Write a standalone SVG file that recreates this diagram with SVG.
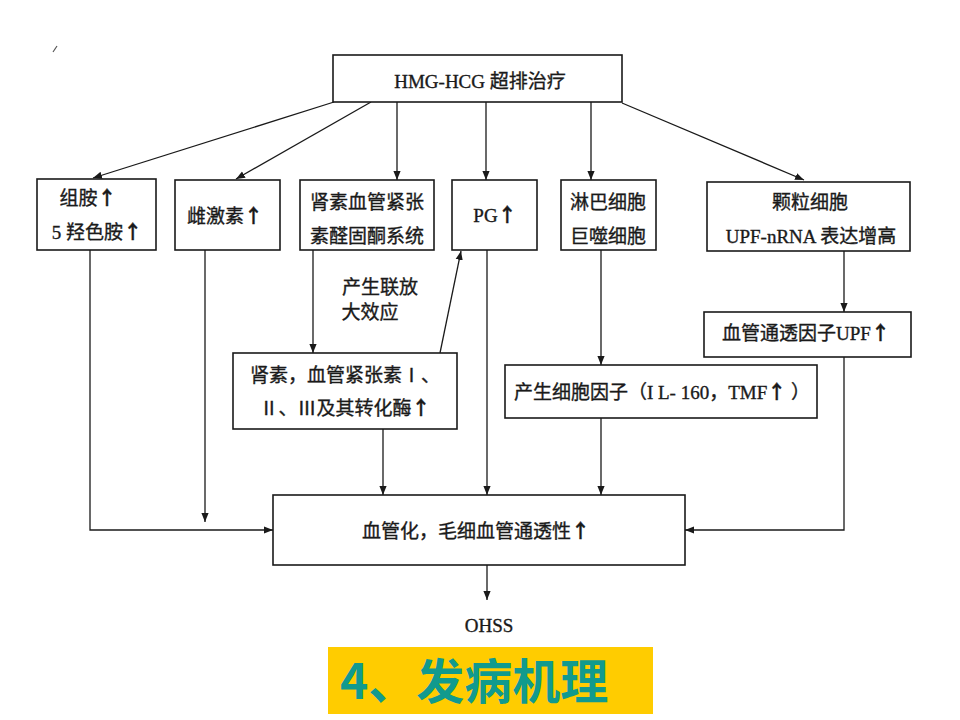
<svg xmlns="http://www.w3.org/2000/svg" width="960" height="720" viewBox="0 0 960 720">
<defs>
<marker id="ah" viewBox="0 0 10 10" refX="10" refY="5" markerWidth="9" markerHeight="9" markerUnits="userSpaceOnUse" orient="auto">
<path d="M0,1 L10,5 L0,9 Z" fill="#1a1a1a"/>
</marker>
<style>
.box{fill:#fff;stroke:#1a1a1a;stroke-width:1.6}
.t{font-family:"Liberation Serif","Noto Sans CJK SC",serif;font-size:19px;fill:#1a1a1a;stroke:#1a1a1a;stroke-width:0.35;text-anchor:middle}
.ar{font-family:"Noto Sans CJK SC",sans-serif;font-weight:bold}
.c{fill:none;stroke:#1a1a1a;stroke-width:1.3}
.ca{fill:none;stroke:#1a1a1a;stroke-width:1.3;marker-end:url(#ah)}
</style>
</defs>
<rect width="960" height="720" fill="#fff"/>
<path d="M53,52 L57,46" stroke="#555" stroke-width="1.2"/>

<g id="connectors">
<line class="ca" x1="334" y1="102" x2="93" y2="178"/>
<line class="ca" x1="371" y1="102" x2="236" y2="179"/>
<line class="ca" x1="397" y1="102" x2="397" y2="180"/>
<line class="ca" x1="486" y1="102" x2="486" y2="180"/>
<line class="ca" x1="591" y1="102" x2="591" y2="180"/>
<line class="ca" x1="622" y1="103" x2="804" y2="180"/>
<polyline class="ca" points="90,250 90,530 273,530"/>
<line class="ca" x1="205" y1="250" x2="205" y2="522"/>
<line class="ca" x1="313" y1="250" x2="313" y2="353"/>
<line class="ca" x1="440" y1="353" x2="461" y2="251"/>
<line class="ca" x1="383" y1="429" x2="383" y2="495"/>
<line class="ca" x1="487" y1="250" x2="487" y2="495"/>
<line class="ca" x1="601" y1="250" x2="601" y2="365"/>
<line class="ca" x1="601" y1="418" x2="601" y2="495"/>
<line class="ca" x1="844" y1="251" x2="844" y2="312"/>
<polyline class="ca" points="844,357 844,530 685,530"/>
<line class="ca" x1="487" y1="565" x2="487" y2="600"/>
</g>

<g id="top">
<rect class="box" x="333" y="55" width="289" height="47"/>
<text class="t" x="480" y="88">HMG-HCG 超排治疗</text>
</g>
<g id="histamine">
<rect class="box" x="37" y="179" width="119" height="71"/>
<text class="t" x="88" y="205">组胺<tspan class="ar">↑</tspan></text>
<text class="t" x="97" y="239">5 羟色胺<tspan class="ar">↑</tspan></text>
</g>
<g id="estrogen">
<rect class="box" x="175" y="180" width="105" height="70"/>
<text class="t" x="225" y="223">雌激素<tspan class="ar">↑</tspan></text>
</g>
<g id="raas">
<rect class="box" x="300" y="180" width="134" height="70"/>
<text class="t" x="367" y="209">肾素血管紧张</text>
<text class="t" x="367" y="243">素醛固酮系统</text>
</g>
<g id="pg">
<rect class="box" x="452" y="180" width="85" height="70"/>
<text class="t" x="495" y="222">PG<tspan class="ar">↑</tspan></text>
</g>
<g id="lymph">
<rect class="box" x="561" y="180" width="95" height="70"/>
<text class="t" x="608" y="209">淋巴细胞</text>
<text class="t" x="608" y="243">巨噬细胞</text>
</g>
<g id="granulosa">
<rect class="box" x="707" y="182" width="203" height="69"/>
<text class="t" x="810" y="209">颗粒细胞</text>
<text class="t" x="811" y="243">UPF-nRNA 表达增高</text>
</g>
<g id="amplify-label">
<text class="t" x="380" y="294">产生联放</text>
<text class="t" x="370" y="319">大效应</text>
</g>
<g id="renin">
<rect class="box" x="233" y="353" width="224" height="76"/>
<text class="t" x="345" y="382">肾素，血管紧张素Ⅰ、</text>
<text class="t" x="345" y="415">Ⅱ、Ⅲ及其转化酶<tspan class="ar">↑</tspan></text>
</g>
<g id="cytokine">
<rect class="box" x="505" y="365" width="312" height="53"/>
<text class="t" x="662" y="399">产生细胞因子（I L- 160，TMF<tspan class="ar">↑</tspan> ）</text>
</g>
<g id="upf">
<rect class="box" x="704" y="312" width="207" height="45"/>
<text class="t" x="806" y="340">血管通透因子UPF<tspan class="ar">↑</tspan></text>
</g>
<g id="vascular">
<rect class="box" x="273" y="495" width="412" height="70"/>
<text class="t" x="476" y="538">血管化，毛细血管通透性<tspan class="ar">↑</tspan></text>
</g>
<g id="ohss">
<text class="t" x="489" y="632">OHSS</text>
</g>
<g id="title">
<rect x="328" y="647" width="325" height="67" fill="#FFCC00"/>
<text x="340" y="699" font-family="'Noto Sans CJK SC',sans-serif" font-size="48" font-weight="bold" fill="#119A8E">4、发病机理</text>
</g>
</svg>
